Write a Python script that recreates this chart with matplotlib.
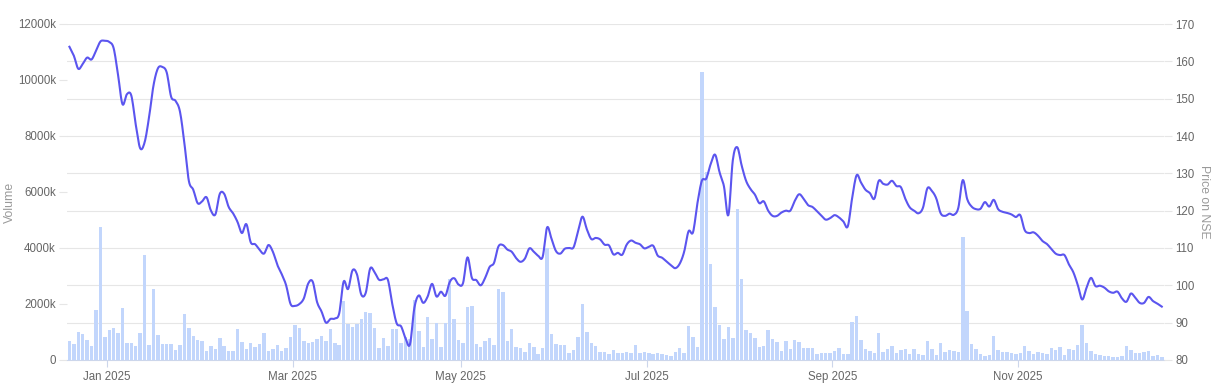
import numpy as np
import pandas as pd
import matplotlib
matplotlib.use("Agg")
import matplotlib.pyplot as plt

# NSE trading days, Dec 2024 -> Dec 2025
HOLIDAYS = ["2024-12-25", "2025-02-26", "2025-03-14", "2025-03-31", "2025-04-10",
            "2025-04-14", "2025-04-18", "2025-05-01", "2025-08-15", "2025-08-27",
            "2025-10-02", "2025-10-21", "2025-10-22", "2025-11-05"]

# daily volume, thousands of shares
volume = [
    690, 571, 988, 928, 702, 488, 1785, 4748, 821, 1071,
    1130, 976, 1868, 607, 607, 488, 952, 3748, 535, 2523,
    904, 560, 583, 571, 345, 535, 1642, 1142, 857, 726,
    678, 321, 500, 405, 773, 512, 321, 309, 1095, 643,
    393, 607, 452, 571, 952, 309, 393, 535, 321, 440,
    821, 1261, 1154, 678, 595, 631, 750, 845, 678, 1107,
    607, 535, 2118, 1273, 1178, 1297, 1452, 1714, 1666, 1130,
    440, 773, 512, 1107, 1107, 595, 833, 750, 2142, 1035,
    464, 1535, 750, 1309, 464, 1309, 2892, 1464, 726, 595,
    1892, 1940, 559, 464, 678, 785, 547, 2547, 2416, 666,
    1107, 452, 440, 298, 607, 476, 226, 428, 3987, 940,
    571, 524, 535, 262, 357, 833, 2011, 1011, 595, 500,
    274, 286, 202, 369, 250, 250, 286, 238, 547, 238,
    286, 238, 202, 250, 226, 167, 143, 298, 417, 262,
    1226, 821, 464, 10282, 6700, 3427, 1904, 1250, 750, 1190,
    797, 5400, 2892, 1071, 964, 797, 452, 500, 1071, 738,
    643, 333, 678, 393, 726, 643, 440, 440, 440, 214,
    262, 262, 262, 333, 417, 226, 202, 1369, 1571, 714,
    393, 321, 238, 976, 298, 393, 500, 250, 369, 393,
    226, 381, 226, 190, 678, 393, 178, 607, 298, 345,
    309, 274, 4391, 1750, 559, 405, 214, 143, 167, 857,
    369, 298, 298, 238, 202, 250, 500, 309, 214, 286,
    250, 226, 440, 357, 464, 190, 405, 369, 524, 1237,
    619, 333, 214, 167, 131, 131, 119, 107, 143, 500,
    357, 238, 262, 286, 333, 143, 190, 95,
]

# closing price on NSE
price = [
    163.9, 161.5, 158.0, 159.3, 161.0, 160.5, 162.8, 165.3, 165.5, 165.2,
    163.5, 156.3, 148.5, 151.2, 150.8, 143.0, 136.7, 138.3, 145.0, 153.5,
    158.1, 158.5, 157.0, 150.5, 149.4, 146.5, 138.0, 128.0, 125.6, 122.0,
    122.5, 123.6, 120.0, 119.0, 124.5, 124.5, 121.0, 119.3, 117.0, 114.0,
    116.4, 111.5, 111.0, 109.5, 108.5, 110.8, 109.0, 105.5, 103.0, 100.0,
    95.0, 94.5, 95.0, 96.5, 100.5, 101.0, 95.5, 93.0, 90.0, 91.0,
    91.1, 92.5, 101.0, 99.0, 104.0, 103.0, 97.5, 98.0, 104.5, 103.5,
    101.5, 101.6, 101.5, 95.0, 89.8, 89.0, 85.8, 84.2, 94.0, 97.3,
    95.3, 97.0, 100.4, 97.0, 98.3, 97.2, 100.9, 101.9, 100.2, 100.6,
    107.5, 102.0, 101.4, 100.0, 102.0, 104.9, 106.0, 110.4, 110.8, 109.6,
    109.0, 107.3, 106.3, 107.2, 109.9, 109.0, 107.9, 107.6, 115.5, 112.5,
    109.2, 108.5, 109.8, 110.0, 110.2, 114.5, 118.4, 115.0, 112.4, 112.7,
    112.3, 110.9, 110.7, 108.3, 108.7, 108.2, 110.9, 112.0, 111.4, 111.0,
    109.9, 110.3, 110.6, 108.0, 107.4, 106.4, 105.4, 104.6, 105.8, 109.0,
    114.5, 114.2, 122.0, 128.0, 128.6, 132.5, 135.0, 130.3, 126.5, 118.8,
    133.5, 137.0, 132.1, 128.0, 125.8, 124.3, 122.0, 122.5, 120.0, 118.6,
    118.6, 119.5, 120.0, 120.0, 122.6, 124.4, 123.2, 121.5, 121.0, 119.9,
    118.7, 117.6, 118.0, 118.8, 118.2, 117.1, 115.8, 123.5, 129.5, 127.5,
    125.6, 124.7, 123.2, 128.0, 127.2, 127.0, 128.0, 126.6, 126.3, 123.2,
    120.9, 120.0, 119.3, 120.8, 126.0, 125.3, 123.3, 119.3, 118.6, 119.2,
    118.9, 120.8, 128.2, 123.1, 121.1, 120.4, 120.5, 122.3, 121.1, 122.9,
    120.4, 119.7, 119.4, 119.0, 118.3, 118.8, 114.8, 114.0, 114.2, 113.3,
    111.9, 111.1, 109.8, 108.5, 108.1, 108.1, 105.6, 103.5, 100.1, 96.2,
    99.4, 102.0, 99.8, 99.9, 99.4, 98.4, 98.0, 98.3, 96.5, 95.6,
    97.8, 96.7, 95.3, 95.3, 96.9, 95.8, 95.1, 94.3,
]

vol_ticks = [0, 2000, 4000, 6000, 8000, 10000, 12000]
price_ticks = [80, 90, 100, 110, 120, 130, 140, 150, 160, 170]
month_ticks = ["Jan 2025", "Mar 2025", "May 2025", "Jul 2025", "Sep 2025", "Nov 2025"]

BAR = "#c2d6fc"
LINE = "#5b55ef"
GRID = "#e6e6e6"
AXIS = "#ccd6eb"
TXT = "#666666"
TITLE = "#9a9a9a"

plt.rcParams["font.family"] = ["Liberation Sans", "DejaVu Sans"]

days = pd.bdate_range("2024-12-18", "2025-12-18")
days = days[~days.isin(pd.to_datetime(HOLIDAYS))][:len(volume)]
x = np.arange(len(volume))


def smooth(xs, ys, n=8):
    # catmull-rom, only to draw the spline look
    ys = np.asarray(ys, float)
    yp = np.concatenate([[2 * ys[0] - ys[1]], ys, [2 * ys[-1] - ys[-2]]])
    t = np.linspace(0, 1, n, endpoint=False)
    ox, oy = [], []
    for i in range(len(ys) - 1):
        p0, p1, p2, p3 = yp[i:i + 4]
        oy.append(0.5 * (2 * p1 + (-p0 + p2) * t + (2 * p0 - 5 * p1 + 4 * p2 - p3) * t ** 2
                         + (-p0 + 3 * p1 - 3 * p2 + p3) * t ** 3))
        ox.append(xs[i] + t * (xs[i + 1] - xs[i]))
    ox.append([xs[-1]])
    oy.append([ys[-1]])
    return np.concatenate(ox), np.concatenate(oy)


W, H = 1218, 389
fig = plt.figure(figsize=(W / 100, H / 100), dpi=100)
left, right, top, bottom = 67, 1164, 24, 360
axv = fig.add_axes([left / W, 1 - bottom / H, (right - left) / W, (bottom - top) / H])
axp = axv.twinx()

vmax = vol_ticks[-1]
pmin, pmax = price_ticks[0], price_ticks[-1]
# grid follows the price axis, drawn behind the bars
for p in price_ticks[1:]:
    axv.axhline((p - pmin) / (pmax - pmin) * vmax, color=GRID, lw=0.8, zorder=0)

axv.bar(x, volume, width=0.78, color=BAR, zorder=2)
sx, sy = smooth(x, price)
axp.plot(sx, sy, color=LINE, lw=1.5, zorder=3, solid_joinstyle="round")

axv.set_xlim(-0.55, 247.5)
axv.set_ylim(0, vmax)
axp.set_ylim(pmin, pmax)

for a in (axv, axp):
    for s in a.spines.values():
        s.set_visible(False)
axv.spines["bottom"].set_visible(True)
axv.spines["bottom"].set_color(AXIS)
axv.spines["bottom"].set_zorder(4)

axv.set_yticks(vol_ticks)
axv.set_yticklabels(["0" if v == 0 else f"{v}k" for v in vol_ticks])
axp.set_yticks(price_ticks)
axp.set_yticklabels([str(p) for p in price_ticks])
axv.tick_params(axis="y", colors=GRID, labelcolor=TXT, labelsize=8.3, length=6, width=0.8, pad=2)
axp.tick_params(axis="y", colors=GRID, labelcolor=TXT, labelsize=8.3, length=6, width=0.8, pad=2)

firsts = []
for lab in month_ticks:
    m = pd.to_datetime(lab, format="%b %Y")
    firsts.append(int(np.argmax((days.year == m.year) & (days.month == m.month))) - 0.5)
axv.set_xticks(firsts)
axv.set_xticklabels(month_ticks)
axv.tick_params(axis="x", colors=AXIS, labelcolor=TXT, labelsize=8.3, length=5, width=0.8, pad=3)

fig.text(10 / W, 1 - 202 / H, "Volume", rotation=90, ha="center", va="center",
         color=TITLE, fontsize=8.8)
fig.text(1204 / W, 1 - 202 / H, "Price on NSE", rotation=270, ha="center", va="center",
         color=TITLE, fontsize=8.8)

fig.savefig("out.png", dpi=100)
